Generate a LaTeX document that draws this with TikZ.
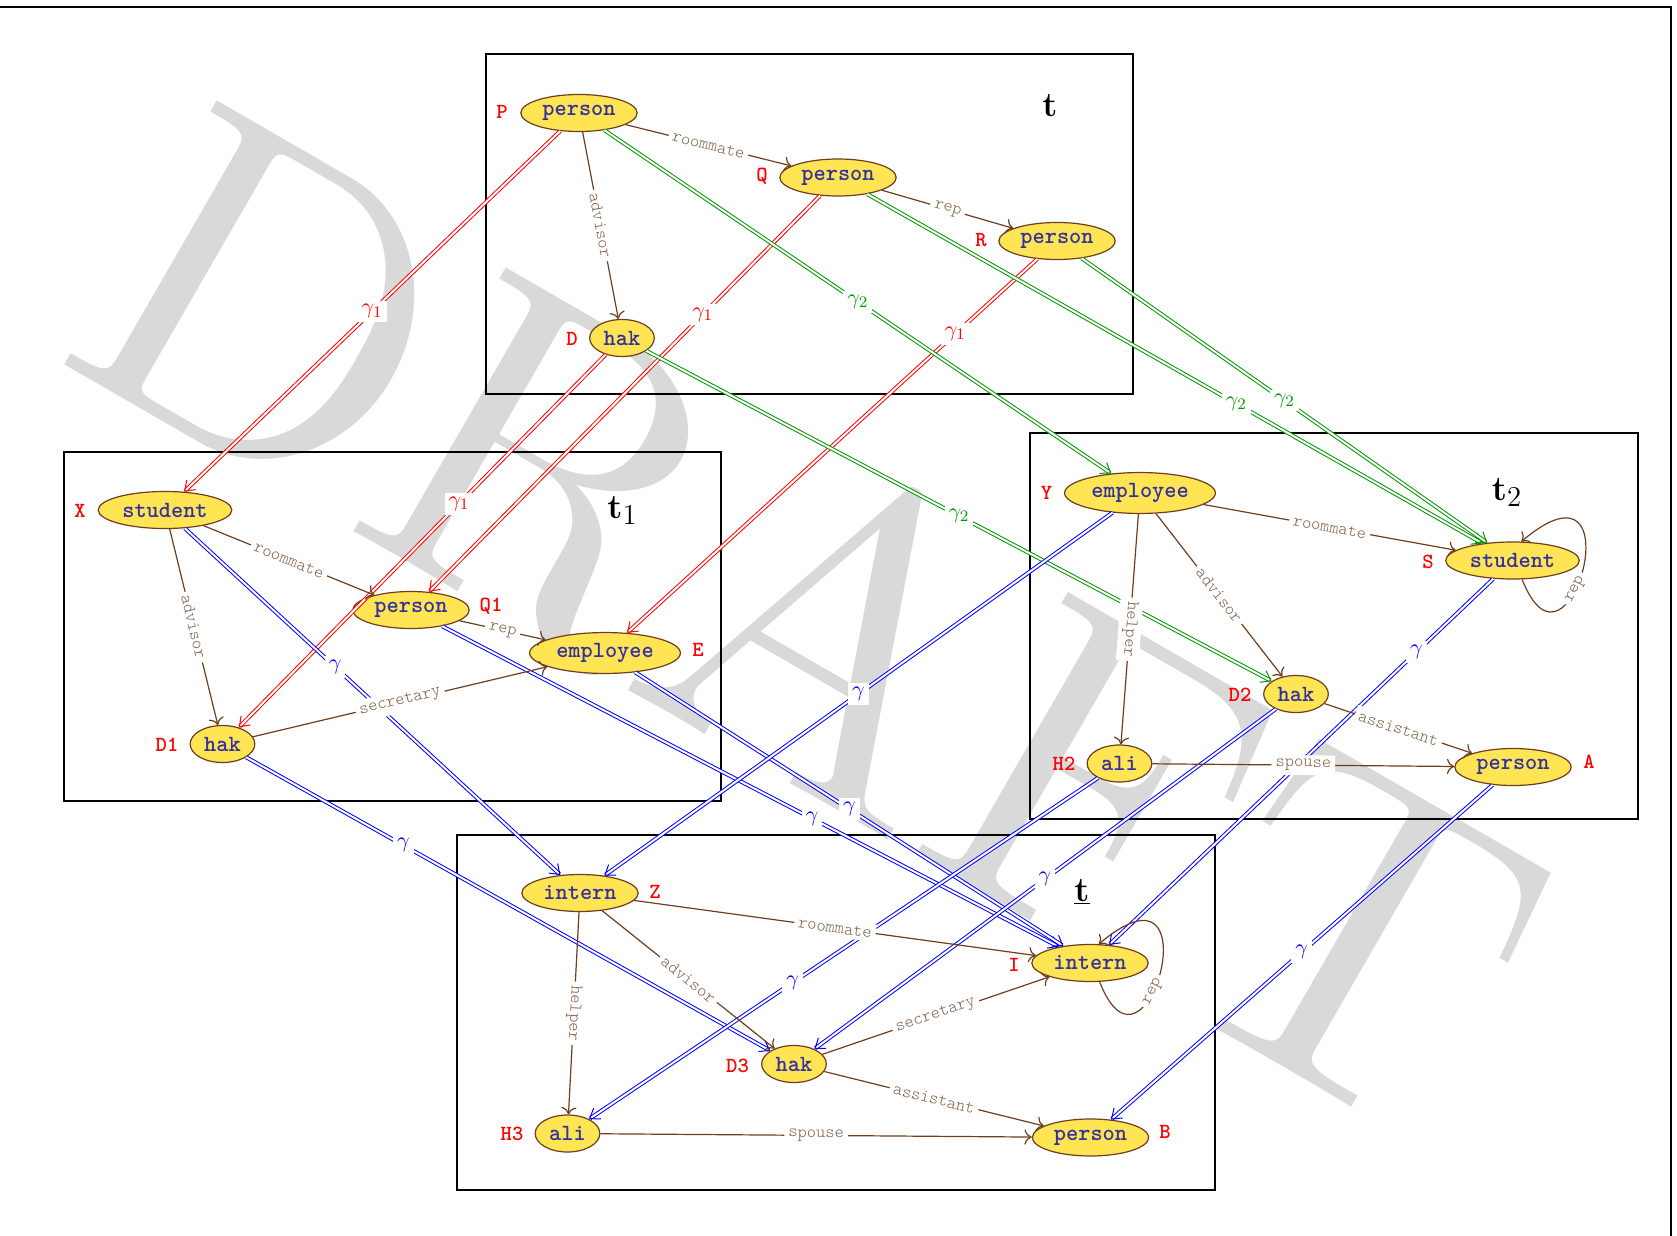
\documentclass[tikz,border=0pt]{standalone}
\usepackage{graphicx}
\usepackage{tikz}
\usetikzlibrary{shapes.geometric,arrows.meta}

\definecolor{edgebrown}{RGB}{110,62,30}
\definecolor{labbrown}{RGB}{128,98,78}
\definecolor{nodeyellow}{RGB}{255,228,84}
\definecolor{nodeink}{RGB}{52,48,160}
\definecolor{mapgreen}{RGB}{0,150,0}
\definecolor{mapblue}{RGB}{0,0,255}
\definecolor{wmgray}{gray}{0.85}

\tikzset{
  obj/.style={ellipse, draw=edgebrown, line width=0.6pt, fill=nodeyellow,
    text=nodeink, font=\fontsize{11.6}{13}\ttfamily\bfseries\selectfont,
    inner xsep=2.3pt, inner ysep=2.4pt, minimum height=18.5pt},
  tag/.style={text=red, inner sep=0pt,
    font=\fontsize{10.8}{12}\ttfamily\bfseries\selectfont},
  rel/.style={draw=edgebrown, line width=0.6pt, -{To[scale=1.25]}},
  rlab/.style={sloped, allow upside down, fill=white, text=labbrown, inner sep=2pt,
    font=\fontsize{8.8}{10}\ttfamily\fontseries{l}\selectfont},
  map/.style={double, line width=0.5pt, double distance=1pt,
    -{Straight Barb[length=4.5pt,width=6.5pt]}},
  glab/.style={fill=white, inner sep=2pt, font=\fontsize{11}{13}\selectfont},
  frame/.style={draw=black, line width=1pt},
  title/.style={anchor=base west, inner sep=0pt, font=\fontsize{19}{22}\selectfont}
}

\begin{document}
\begin{tikzpicture}[x=0.5pt,y=-0.5pt]
\useasboundingbox (0,0) rectangle (1677,1236);

% watermark
\node[anchor=base west, rotate=-30, inner sep=0pt, text=wmgray,
      font=\fontsize{12}{14}\selectfont] (wm) at (48,355) {\scalebox{18.6}{DRAFT}};

% outer frame (top and right sides)
\draw[line width=1pt] (0,7) -- (1671,7) -- (1671,1236);

% the four graphs
\draw[frame] (486,54) rectangle (1132.5,393.5);
\draw[frame] (64.3,452.3) rectangle (721,800.7);
\draw[frame] (1030.2,433.3) rectangle (1638.4,819.3);
\draw[frame] (457,834.7) rectangle (1215,1190);

\node[title] (tt)  at (1042,116.7) {$\mathbf{t}$};
\node[title] (tt1) at (607,518)    {$\mathbf{t}_1$};
\node[title] (tt2) at (1491.5,500) {$\mathbf{t}_2$};
\node[title] (ttb) at (1074,901)   {$\underline{\mathbf{t}}$};

% graph t
\node[obj] (P)  at (579,113)     {person};
\node[obj] (Q)  at (838,177.5)   {person};
\node[obj] (R)  at (1057,241)    {person};
\node[obj] (D)  at (622,338)     {hak};
% graph t1
\node[obj] (X)  at (165,510)     {student};
\node[obj] (Q1) at (411,610)     {person};
\node[obj] (E)  at (605,653)     {employee};
\node[obj] (D1) at (222.5,744)   {hak};
% graph t2
\node[obj] (Y)  at (1140,493)    {employee};
\node[obj] (S)  at (1512.5,560.5){student};
\node[obj] (D2) at (1296,694)    {hak};
\node[obj] (H2) at (1119.5,763.5){ali};
\node[obj] (A)  at (1513,767)    {person};
% graph t underlined
\node[obj] (Z)  at (580,893)     {intern};
\node[obj] (I)  at (1090,963)    {intern};
\node[obj] (D3) at (794,1064)    {hak};
\node[obj] (H3) at (567.5,1133.5){ali};
\node[obj] (B)  at (1090.5,1137.5){person};

% variable names
\node[tag] (nP)  at (502,112)    {P};
\node[tag] (nQ)  at (762,176)    {Q};
\node[tag] (nR)  at (981,240)    {R};
\node[tag] (nD)  at (572,339)    {D};
\node[tag] (nX)  at (80,511)     {X};
\node[tag] (nQ1) at (491,606)    {Q1};
\node[tag] (nE)  at (698,650)    {E};
\node[tag] (nD1) at (167,745)    {D1};
\node[tag] (nY)  at (1046.5,493) {Y};
\node[tag] (nS)  at (1428,562)   {S};
\node[tag] (nD2) at (1240,695)   {D2};
\node[tag] (nH2) at (1064,764)   {H2};
\node[tag] (nA)  at (1589,762)   {A};
\node[tag] (nZ)  at (655,892)    {Z};
\node[tag] (nI)  at (1014,965)   {I};
\node[tag] (nD3) at (737.5,1066) {D3};
\node[tag] (nH3) at (512,1134)   {H3};
\node[tag] (nB)  at (1165,1132)  {B};

% homomorphism gamma1 : t -> t1
\draw[map,red] (P) -- node[glab,text=red]{$\gamma_1$} (X);
\draw[map,red] (Q) -- node[glab,text=red,pos=.3]{$\gamma_1$} (Q1);
\draw[map,red] (R) -- node[glab,text=red,pos=.2]{$\gamma_1$} (E);
\draw[map,red] (D) -- node[glab,text=red,pos=.4]{$\gamma_1$} (D1);

% homomorphism gamma2 : t -> t2
\draw[map,mapgreen] (P) -- node[glab,text=mapgreen]{$\gamma_2$} (Y);
\draw[map,mapgreen] (Q) -- node[glab,text=mapgreen,pos=.6]{$\gamma_2$} (S);
\draw[map,mapgreen] (R) -- node[glab,text=mapgreen]{$\gamma_2$} (S);
\draw[map,mapgreen] (D) -- node[glab,text=mapgreen]{$\gamma_2$} (D2);

% homomorphisms gamma into the lower graph
\draw[map,mapblue] (X)  -- node[glab,text=mapblue,pos=.4]{$\gamma$} (Z);
\draw[map,mapblue] (D1) -- node[glab,text=mapblue,pos=.3]{$\gamma$} (D3);
\draw[map,mapblue] (Q1) -- node[glab,text=mapblue,pos=.6]{$\gamma$} (I);
\draw[map,mapblue] (E)  -- node[glab,text=mapblue]{$\gamma$} (I);
\draw[map,mapblue] (Y)  -- node[glab,text=mapblue]{$\gamma$} (Z);
\draw[map,mapblue] (D2) -- node[glab,text=mapblue]{$\gamma$} (D3);
\draw[map,mapblue] (H2) -- node[glab,text=mapblue,pos=.6]{$\gamma$} (H3);
\draw[map,mapblue] (S)  -- node[glab,text=mapblue,pos=.2]{$\gamma$} (I);
\draw[map,mapblue] (A)  -- node[glab,text=mapblue]{$\gamma$} (B);

% relations in t
\draw[rel] (P) -- node[rlab]{roommate} (Q);
\draw[rel] (Q) -- node[rlab]{rep} (R);
\draw[rel] (P) -- node[rlab]{advisor} (D);

% relations in t1
\draw[rel] (X)  -- node[rlab]{roommate} (Q1);
\draw[rel] (Q1) -- node[rlab]{rep} (E);
\draw[rel] (X)  -- node[rlab]{advisor} (D1);
\draw[rel] (D1) -- node[rlab]{secretary} (E);

% relations in t2
\draw[rel] (Y)  -- node[rlab]{roommate} (S);
\draw[rel] (S.-63) .. controls +(47,120) and +(117,-99) .. node[rlab,pos=.4]{rep} (S.65);
\draw[rel] (Y)  -- node[rlab]{advisor} (D2);
\draw[rel] (Y)  -- node[rlab]{helper} (H2);
\draw[rel] (D2) -- node[rlab]{assistant} (A);
\draw[rel] (H2) -- node[rlab]{spouse} (A);

% relations in the lower graph
\draw[rel] (Z)  -- node[rlab]{roommate} (I);
\draw[rel] (I.-63) .. controls +(47,120) and +(117,-99) .. node[rlab,pos=.4]{rep} (I.65);
\draw[rel] (Z)  -- node[rlab]{advisor} (D3);
\draw[rel] (Z)  -- node[rlab]{helper} (H3);
\draw[rel] (D3) -- node[rlab]{secretary} (I);
\draw[rel] (D3) -- node[rlab]{assistant} (B);
\draw[rel] (H3) -- node[rlab]{spouse} (B);
\end{tikzpicture}
\end{document}
